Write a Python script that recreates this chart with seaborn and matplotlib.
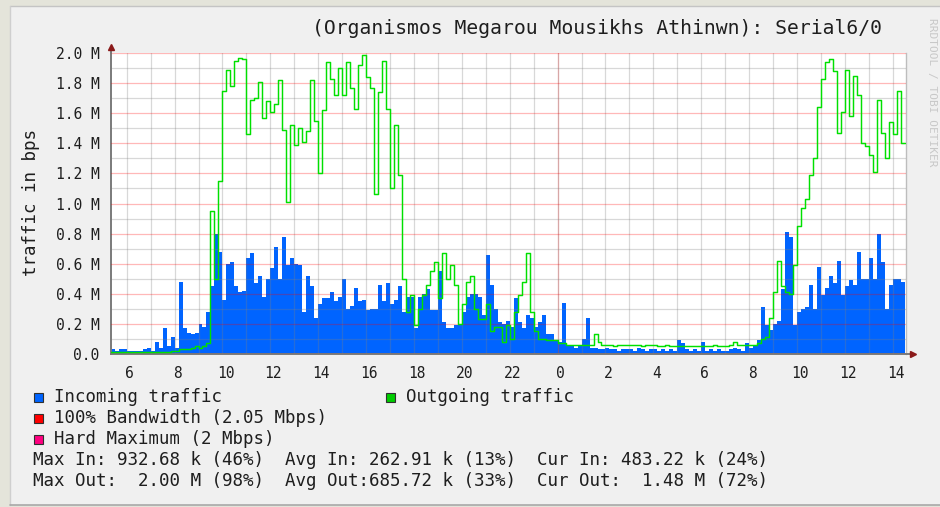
import numpy as np
import matplotlib
matplotlib.use("Agg")
import matplotlib.pyplot as plt
from matplotlib.patches import Rectangle
from matplotlib.lines import Line2D
from matplotlib.ticker import MultipleLocator, FixedLocator
from matplotlib.transforms import ScaledTranslation
import seaborn as sns

W, H = 940, 507

# 10 minute samples, first one at 05:20 of day one, last one at 14:20 of day two
START_HOUR = 5 + 20 / 60
STEP_HOURS = 1 / 6
END_HOUR = 38.5
X_MAX = 38.553

# incoming traffic in Mbps, one row per hour
incoming_mbps = [
    0.03, 0.02, 0.03, 0.03,                    # 05:20
    0.02, 0.02, 0.02, 0.02, 0.03, 0.04,        # 06
    0.02, 0.08, 0.04, 0.17, 0.05, 0.11,        # 07
    0.04, 0.48, 0.17, 0.14, 0.13, 0.14,        # 08
    0.20, 0.18, 0.28, 0.45, 0.80, 0.68,        # 09
    0.36, 0.60, 0.61, 0.45, 0.41, 0.42,        # 10
    0.64, 0.67, 0.47, 0.52, 0.38, 0.50,        # 11
    0.57, 0.71, 0.50, 0.78, 0.59, 0.64,        # 12
    0.60, 0.59, 0.28, 0.52, 0.45, 0.24,        # 13
    0.33, 0.37, 0.37, 0.41, 0.35, 0.38,        # 14
    0.50, 0.30, 0.32, 0.44, 0.35, 0.36,        # 15
    0.29, 0.30, 0.30, 0.46, 0.35, 0.47,        # 16
    0.33, 0.36, 0.45, 0.28, 0.38, 0.38,        # 17
    0.17, 0.38, 0.40, 0.43, 0.29, 0.29,        # 18
    0.55, 0.21, 0.17, 0.17, 0.19, 0.19,        # 19
    0.28, 0.38, 0.40, 0.40, 0.38, 0.26,        # 20
    0.66, 0.46, 0.30, 0.21, 0.20, 0.22,        # 21
    0.18, 0.37, 0.21, 0.17, 0.26, 0.24,        # 22
    0.18, 0.21, 0.26, 0.13, 0.13, 0.09,        # 23
    0.08, 0.34, 0.05, 0.05, 0.04, 0.05,        # 00
    0.10, 0.24, 0.04, 0.04, 0.03, 0.03,        # 01
    0.04, 0.03, 0.03, 0.02, 0.03, 0.03,        # 02
    0.03, 0.02, 0.04, 0.03, 0.02, 0.03,        # 03
    0.03, 0.02, 0.03, 0.02, 0.03, 0.02,        # 04
    0.09, 0.07, 0.03, 0.02, 0.03, 0.02,        # 05
    0.08, 0.02, 0.03, 0.02, 0.03, 0.02,        # 06
    0.02, 0.03, 0.04, 0.03, 0.02, 0.07,        # 07
    0.04, 0.05, 0.09, 0.31, 0.19, 0.16,        # 08
    0.20, 0.22, 0.43, 0.81, 0.78, 0.19,        # 09
    0.28, 0.30, 0.31, 0.46, 0.30, 0.58,        # 10
    0.39, 0.44, 0.52, 0.47, 0.62, 0.39,        # 11
    0.45, 0.49, 0.46, 0.68, 0.50, 0.50,        # 12
    0.64, 0.50, 0.80, 0.61, 0.30, 0.46,        # 13
    0.50, 0.50, 0.48,                          # 14
]

# outgoing traffic in Mbps
outgoing_mbps = [
    0.01, 0.01, 0.01, 0.01,                    # 05:20
    0.01, 0.01, 0.01, 0.01, 0.01, 0.01,        # 06
    0.01, 0.01, 0.01, 0.01, 0.01, 0.02,        # 07
    0.02, 0.03, 0.03, 0.03, 0.04, 0.05,        # 08
    0.04, 0.05, 0.07, 0.95, 0.50, 1.15,        # 09
    1.75, 1.89, 1.78, 1.95, 1.97, 1.96,        # 10
    1.46, 1.69, 1.70, 1.81, 1.57, 1.68,        # 11
    1.61, 1.66, 1.82, 1.49, 1.01, 1.52,        # 12
    1.39, 1.50, 1.41, 1.48, 1.82, 1.55,        # 13
    1.20, 1.62, 1.94, 1.83, 1.72, 1.90,        # 14
    1.72, 1.94, 1.77, 1.63, 1.92, 1.99,        # 15
    1.84, 1.77, 1.06, 1.74, 1.95, 1.63,        # 16
    1.10, 1.52, 1.19, 0.50, 0.28, 0.39,        # 17
    0.19, 0.30, 0.39, 0.46, 0.55, 0.61,        # 18
    0.37, 0.67, 0.50, 0.59, 0.46, 0.20,        # 19
    0.33, 0.48, 0.52, 0.30, 0.23, 0.23,        # 20
    0.33, 0.15, 0.18, 0.18, 0.08, 0.19,        # 21
    0.10, 0.28, 0.39, 0.48, 0.67, 0.28,        # 22
    0.15, 0.10, 0.10, 0.09, 0.09, 0.09,        # 23
    0.07, 0.07, 0.06, 0.06, 0.06, 0.06,        # 00
    0.06, 0.06, 0.06, 0.13, 0.08, 0.06,        # 01
    0.06, 0.06, 0.05, 0.06, 0.06, 0.06,        # 02
    0.06, 0.06, 0.06, 0.05, 0.06, 0.06,        # 03
    0.06, 0.05, 0.05, 0.06, 0.05, 0.05,        # 04
    0.05, 0.05, 0.05, 0.05, 0.05, 0.05,        # 05
    0.05, 0.05, 0.05, 0.06, 0.05, 0.05,        # 06
    0.05, 0.06, 0.08, 0.06, 0.06, 0.06,        # 07
    0.06, 0.06, 0.07, 0.10, 0.11, 0.24,        # 08
    0.41, 0.62, 0.45, 0.41, 0.40, 0.59,        # 09
    0.85, 0.97, 1.03, 1.19, 1.30, 1.64,        # 10
    1.83, 1.94, 1.96, 1.88, 1.47, 1.61,        # 11
    1.89, 1.58, 1.85, 1.72, 1.40, 1.38,        # 12
    1.32, 1.21, 1.69, 1.47, 1.30, 1.54,        # 13
    1.46, 1.75, 1.40,                          # 14
]

y_ticks = [0.0, 0.2, 0.4, 0.6, 0.8, 1.0, 1.2, 1.4, 1.6, 1.8, 2.0]
y_tick_labels = ["0.0", "0.2 M", "0.4 M", "0.6 M", "0.8 M", "1.0 M",
                 "1.2 M", "1.4 M", "1.6 M", "1.8 M", "2.0 M"]
x_tick_hours = [6, 8, 10, 12, 14, 16, 18, 20, 22, 24, 26, 28, 30, 32, 34, 36, 38]
x_tick_labels = ["6", "8", "10", "12", "14", "16", "18", "20", "22",
                 "0", "2", "4", "6", "8", "10", "12", "14"]
midnight_hour = 24

title = "(Organismos Megarou Mousikhs Athinwn): Serial6/0"
stats_in = "Max In: 932.68 k (46%)  Avg In: 262.91 k (13%)  Cur In: 483.22 k (24%)"
stats_out = "Max Out:  2.00 M (98%)  Avg Out:685.72 k (33%)  Cur Out:  1.48 M (72%)"

BLUE = "#0064FF"
GREEN = "#00E000"
TEXT = "#1E1E1E"

sns.set_style("white")
plt.rcParams["font.family"] = ["DejaVu Sans Mono", "DejaVu Sans"]


def fx(x):
    return x / W


def fy(y):
    return 1 - y / H


# plot box in pixels of the reference
PL, PR, PT, PB = 110.7, 906.0, 53.0, 354.0

fig = plt.figure(figsize=(W / 100, H / 100), dpi=100)
fig.patch.set_facecolor("#E4E4DA")
fig.patches.append(Rectangle((fx(10), fy(505)), fx(940 - 10), (505 - 6) / H,
                             transform=fig.transFigure, facecolor="#F0F0F0",
                             edgecolor="none", zorder=-10))
fig.lines.append(Line2D([fx(10), fx(940)], [fy(6), fy(6)], transform=fig.transFigure,
                        color="#C4C4C4", lw=1, zorder=-5))
fig.lines.append(Line2D([fx(10), fx(10)], [fy(6), fy(505)], transform=fig.transFigure,
                        color="#CFCFCF", lw=1, zorder=-5))
fig.lines.append(Line2D([fx(10), fx(940)], [fy(505), fy(505)], transform=fig.transFigure,
                        color="#A8A8A8", lw=1.2, zorder=-5))

ax = fig.add_axes([fx(PL), fy(PB), (PR - PL) / W, (PB - PT) / H])
ax.set_facecolor("white")

t = START_HOUR + STEP_HOURS * np.arange(len(incoming_mbps))
t_ext = np.append(t, END_HOUR)
in_ext = np.append(incoming_mbps, incoming_mbps[-1])
out_ext = np.append(outgoing_mbps, outgoing_mbps[-1])

ax.fill_between(t_ext, in_ext, step="post", color=BLUE, lw=0, zorder=1)
sns.lineplot(x=t_ext, y=out_ext, drawstyle="steps-post", color=GREEN, lw=1.05,
             estimator=None, ax=ax, zorder=3)

ax.set_xlim(START_HOUR - 0.001, X_MAX)
ax.set_ylim(0, 2.0)

# grid: grey every hour / 0.1 M, red every 0.2 M and at midnight
ax.set_axisbelow(False)
ax.xaxis.set_major_locator(FixedLocator(x_tick_hours))
ax.xaxis.set_minor_locator(MultipleLocator(1))
ax.xaxis.remove_overlapping_locs = False
ax.yaxis.set_major_locator(FixedLocator(y_ticks))
ax.yaxis.set_minor_locator(MultipleLocator(0.1))
ax.grid(which="minor", color="#808080", alpha=0.3, lw=0.9)
ax.grid(which="major", axis="y", color="#FF0000", alpha=0.28, lw=0.9)
ax.grid(which="major", axis="x", visible=False)
ax.axvline(midnight_hour, color="#FF0000", alpha=0.28, lw=0.9, zorder=2.5)

ax.set_xticklabels(x_tick_labels)
ax.set_yticklabels(y_tick_labels)
ax.tick_params(axis="both", which="both", length=0, colors=TEXT, labelsize=10.5)
ax.tick_params(axis="x", pad=9)
ax.tick_params(axis="y", pad=8)
ax.set_xlabel("")
ax.set_ylabel("")

# rrdtool puts the hour labels a few pixels right of their grid line
shift = ScaledTranslation(3 / 100, 0, fig.dpi_scale_trans)
for lab in ax.get_xticklabels():
    lab.set_transform(lab.get_transform() + shift)

ax.spines["top"].set_visible(False)
ax.spines["right"].set_color("#BDBDBD")
ax.spines["right"].set_linewidth(1)
for side in ["left", "bottom"]:
    ax.spines[side].set_color("#7A7A7A")
    ax.spines[side].set_linewidth(1.4)

# axis extensions and arrow heads
fig.lines.append(Line2D([fx(PL), fx(PL)], [fy(PT), fy(48)], transform=fig.transFigure,
                        color="#7A7A7A", lw=1.4))
fig.lines.append(Line2D([fx(PR), fx(910)], [fy(PB), fy(PB)], transform=fig.transFigure,
                        color="#7A7A7A", lw=1.4))
fig.lines.append(Line2D([fx(PL)], [fy(47)], transform=fig.transFigure, marker="^",
                        markersize=5, color="#8B1A1A", lw=0))
fig.lines.append(Line2D([fx(913)], [fy(PB)], transform=fig.transFigure, marker=">",
                        markersize=5, color="#8B1A1A", lw=0))

# texts
fig.text(fx(597), fy(29), title, ha="center", va="center", fontsize=14.2, color=TEXT)
fig.text(fx(31.5), fy(202), "traffic in bps", rotation=90, ha="center", va="center",
         fontsize=12.6, color=TEXT)
fig.text(fx(932), fy(18), "RRDTOOL / TOBI OETIKER", rotation=270, ha="center",
         va="top", fontsize=8, color="#C8C8C8")

legend_rows = [
    (33, 397, BLUE, "Incoming traffic"),
    (385, 397, "#00CC00", "Outgoing traffic"),
    (33, 418, "#FF0000", "100% Bandwidth (2.05 Mbps)"),
    (33, 439, "#FF0080", "Hard Maximum (2 Mbps)"),
]
for x0, yc, col, label in legend_rows:
    fig.patches.append(Rectangle((fx(x0 + 0.5), fy(yc + 5)), 9 / W, 9 / H,
                                 transform=fig.transFigure, facecolor=col,
                                 edgecolor="#303030", lw=0.8))
    fig.text(fx(x0 + 21), fy(yc), label, ha="left", va="center", fontsize=12.5, color=TEXT)

fig.text(fx(33), fy(460), stats_in, ha="left", va="center", fontsize=12.6, color=TEXT)
fig.text(fx(33), fy(481), stats_out, ha="left", va="center", fontsize=12.6, color=TEXT)

fig.savefig("out.png", dpi=100, facecolor=fig.get_facecolor())
